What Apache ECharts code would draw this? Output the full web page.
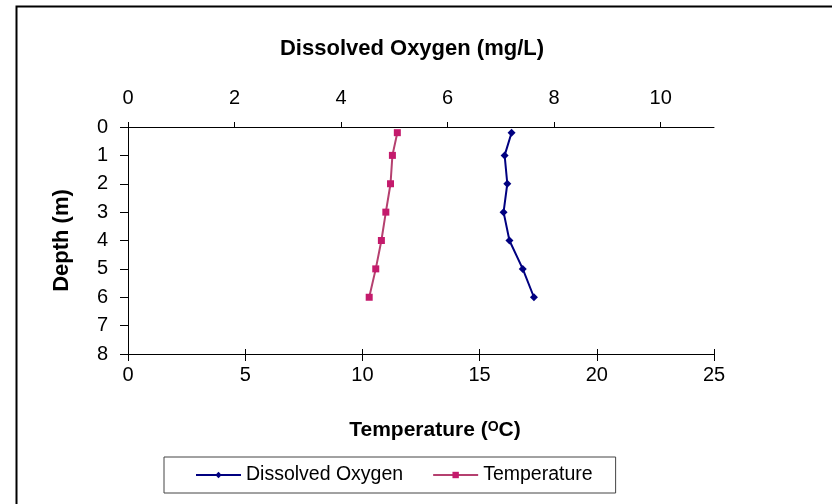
<!DOCTYPE html>
<html>
<head>
<meta charset="utf-8">
<script src="https://cdn.jsdelivr.net/npm/echarts@6/dist/echarts.min.js"></script>
<style>
html,body{margin:0;padding:0;background:#fff;}
#chart{width:832px;height:504px;}
</style>
</head>
<body>
<div id="chart"></div>
<script>
var depth = [0.2, 1, 2, 3, 4, 5, 6];
var dissolvedOxygen = [7.20, 7.07, 7.12, 7.05, 7.16, 7.41, 7.62];
var temperature = [11.49, 11.28, 11.20, 11.00, 10.81, 10.57, 10.29];
var doTicks = [0, 2, 4, 6, 8, 10];
var tempTicks = [0, 5, 10, 15, 20, 25];
var depthTicks = [0, 1, 2, 3, 4, 5, 6, 7, 8];

var FONT = '"Liberation Sans", Arial, sans-serif';
var chart = echarts.init(document.getElementById('chart'));

function pairs(xs, ys) { return xs.map(function (v, i) { return [v, ys[i]]; }); }

var gridRect = { left: 128, right: 118, top: 127, bottom: 150, containLabel: false };

var option = {
  backgroundColor: '#fff',
  animation: false,
  textStyle: { fontFamily: FONT, color: '#000' },
  grid: [gridRect, Object.assign({}, gridRect)],
  xAxis: [
    {
      type: 'value', gridIndex: 0, position: 'top', min: 0, max: 11, interval: 2,
      name: 'Dissolved Oxygen (mg/L)', nameLocation: 'middle', nameGap: 67,
      nameTextStyle: { fontFamily: FONT, fontWeight: 'bold', fontSize: 22, color: '#000', padding: [0, 18, 0, 0] },
      axisLine: { show: true, onZero: false, lineStyle: { color: '#000', width: 1 } },
      axisTick: { show: true, inside: false, length: 5, customValues: doTicks, lineStyle: { color: '#000' } },
      axisLabel: { show: true, margin: 19, fontSize: 20, color: '#000', fontFamily: FONT, customValues: doTicks },
      splitLine: { show: false }
    },
    {
      type: 'value', gridIndex: 0, position: 'bottom', min: 0, max: 25, interval: 5,
      name: '{t|Temperature (}{s|O}{t|C)}', nameLocation: 'middle', nameGap: 66,
      nameTextStyle: {
        fontFamily: FONT, fontWeight: 'bold', fontSize: 21, color: '#000', padding: [0, 0, 0, 28],
        rich: {
          t: { fontFamily: FONT, fontWeight: 'bold', fontSize: 21, color: '#000' },
          s: { fontFamily: FONT, fontWeight: 'bold', fontSize: 14, color: '#000', verticalAlign: 'top', padding: [0, 0, 6, 0] }
        }
      },
      axisLine: { show: true, onZero: false, lineStyle: { color: '#000', width: 1 } },
      axisTick: { show: true, inside: false, length: 7, customValues: tempTicks, lineStyle: { color: '#000' } },
      axisLabel: { show: true, margin: 11, fontSize: 20, color: '#000', fontFamily: FONT, customValues: tempTicks },
      splitLine: { show: false }
    },
    {
      type: 'value', gridIndex: 1, position: 'bottom', min: 0, max: 25, interval: 5,
      axisLine: { show: false, onZero: false },
      axisTick: { show: true, inside: true, length: 5, customValues: tempTicks, lineStyle: { color: '#000' } },
      axisLabel: { show: false },
      splitLine: { show: false }
    }
  ],
  yAxis: [
    {
      type: 'value', gridIndex: 0, inverse: true, min: 0, max: 8, interval: 1,
      name: 'Depth (m)', nameLocation: 'middle', nameGap: 55, nameRotate: 90,
      nameTextStyle: { fontFamily: FONT, fontWeight: 'bold', fontSize: 22, color: '#000' },
      axisLine: { show: true, onZero: false, lineStyle: { color: '#000', width: 1 } },
      axisTick: { show: true, inside: false, length: 8, customValues: depthTicks, lineStyle: { color: '#000' } },
      axisLabel: { show: true, margin: 20, fontSize: 20, color: '#000', fontFamily: FONT, customValues: depthTicks },
      splitLine: { show: false }
    },
    {
      type: 'value', gridIndex: 1, inverse: true, min: 0, max: 8, interval: 1,
      show: false
    }
  ],
  legend: {
    left: 164, top: 457,
    padding: [8, 23, 8, 31],
    itemGap: 29, itemWidth: 45, itemHeight: 8,
    borderColor: '#444', borderWidth: 1,
    textStyle: { fontFamily: FONT, fontSize: 19.5, color: '#000' },
    data: ['Dissolved Oxygen', 'Temperature']
  },
  series: [
    {
      name: 'Dissolved Oxygen', type: 'line', xAxisIndex: 0, yAxisIndex: 0,
      data: pairs(dissolvedOxygen, depth),
      symbol: 'diamond', symbolSize: 8,
      lineStyle: { color: '#000080', width: 2 },
      itemStyle: { color: '#000080' }
    },
    {
      name: 'Temperature', type: 'line', xAxisIndex: 1, yAxisIndex: 0,
      data: pairs(temperature, depth),
      symbol: 'rect', symbolSize: 7,
      lineStyle: { color: '#B5406F', width: 2 },
      itemStyle: { color: '#C41A6C' }
    }
  ],
  graphic: [
    {
      type: 'polyline', silent: true,
      shape: { points: [[16.5, 504], [16.5, 6.5], [832, 6.5]] },
      style: { stroke: '#000', lineWidth: 2, fill: null }
    }
  ]
};
chart.setOption(option);
</script>
</body>
</html>
